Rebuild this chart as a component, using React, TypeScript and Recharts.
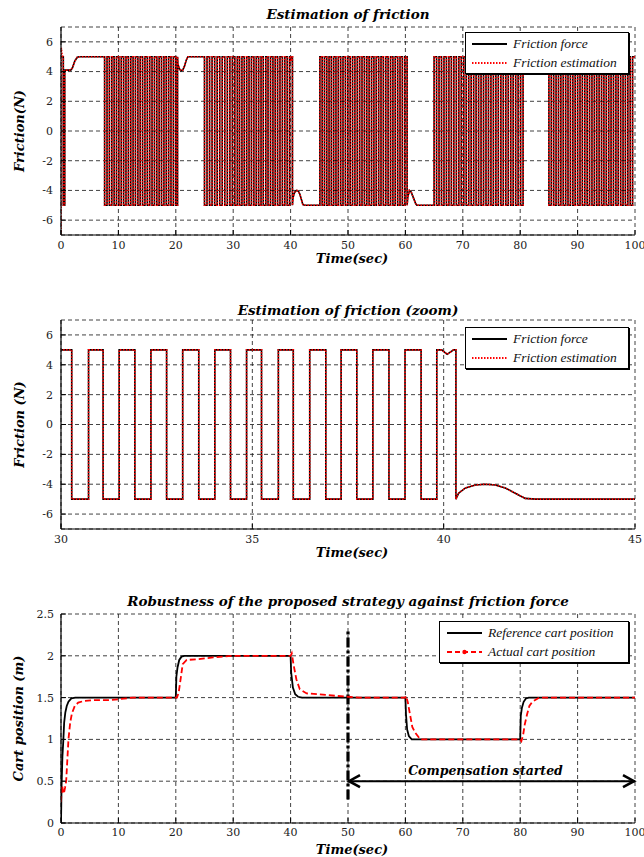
import React from "react";
import { LineChart, Line, XAxis, YAxis, CartesianGrid, ReferenceLine, Legend, Label } from "recharts";

// ---------- Estimation of friction (time in s, friction in N) ----------
// smooth parts of the friction force, [time, value]
const startPart: [number, number][] = [
  [0, 5], [0.4, 5], [0.4, -5], [0.65, -5], [0.65, 4.1], [1.7, 4.1], [2.0, 4.25], [2.4, 4.7], [2.8, 4.95], [3.1, 5],
];
const hump20: [number, number][] = [
  [20.35, 4.55], [20.6, 4.2], [20.9, 4.05], [21.2, 4.1], [21.5, 4.35], [21.8, 4.75], [22.1, 5],
];
const hump40: [number, number][] = [
  [39.95, 5], [40.09, 4.7], [40.26, 5], [40.32, 5], [40.32, -5],
  [40.39, -4.6], [40.57, -4.25], [40.83, -4.05], [41.09, -4.0], [41.35, -4.05], [41.61, -4.25], [41.87, -4.6], [42.13, -4.95], [42.4, -5],
];
const hump60: [number, number][] = [
  [60.4, -4.5], [60.7, -4.0], [61.0, -4.1], [61.4, -4.5], [61.8, -4.9], [62.0, -5],
];
const hump80: [number, number][] = [
  [80.6, 4.5], [80.9, 4.1], [81.3, 4.1], [81.7, 4.5], [82.1, 4.9], [82.4, 5],
];
// estimator start-up transient
const estStart: [number, number][] = [[0, -7], [0.06, 5.6], [0.2, 5.1]];

// switching instants of the stick-slip friction (sign changes)
const switches1 = [
  7.6, 8.02, 8.43, 8.85, 9.26, 9.67, 10.08, 10.5, 10.91, 11.32, 11.74, 12.15, 12.56, 12.97, 13.39, 13.8,
  14.21, 14.62, 15.04, 15.45, 15.86, 16.28, 16.69, 17.1, 17.51, 17.93, 18.34, 18.75, 19.16, 19.58, 19.99, 20.3,
];
const switches2 = [
  25.0, 25.44, 25.88, 26.32, 26.77, 27.21, 27.65, 28.09, 28.53, 28.98, 29.42, 29.86,
  30.28, 30.72, 31.1, 31.52, 31.93, 32.35, 32.76, 33.18, 33.6, 34.02, 34.43, 34.85,
  35.24, 35.68, 36.07, 36.5, 36.92, 37.32, 37.73, 38.15, 38.57, 38.99, 39.41, 39.82,
];
const switches3 = [
  45.1, 45.5, 45.9, 46.3, 46.7, 47.1, 47.5, 47.9, 48.31, 48.72, 49.13, 49.55, 49.96, 50.38, 50.79, 51.2,
  51.62, 52.03, 52.44, 52.86, 53.27, 53.68, 54.1, 54.51, 54.92, 55.34, 55.75, 56.16, 56.58, 56.99, 57.41, 57.82,
  58.23, 58.65, 59.06, 59.47, 59.89, 60.3,
];
const switches4 = [
  65.0, 65.43, 65.86, 66.29, 66.72, 67.15, 67.58, 68.01, 68.44, 68.88, 69.31, 69.74, 70.17, 70.6, 71.03, 71.46,
  71.89, 72.32, 72.75, 73.18, 73.61, 74.04, 74.47, 74.9, 75.33, 75.76, 76.19, 76.63, 77.06, 77.49, 77.92, 78.35,
  78.78, 79.21, 79.64, 80.07, 80.5,
];
const switches5 = [
  85.0, 85.42, 85.83, 86.25, 86.67, 87.08, 87.5, 87.92, 88.33, 88.75, 89.17, 89.58, 90.0, 90.42, 90.83, 91.25,
  91.67, 92.08, 92.5, 92.92, 93.33, 93.75, 94.17, 94.58, 95.0, 95.42, 95.83, 96.25, 96.67, 97.08, 97.5, 97.92,
  98.33, 98.75, 99.17, 99.58,
];

// ---------- Cart position (time in s, position in m) ----------
const refPosition: [number, number][] = [
  [0, 0], [0.1, 0.45], [0.25, 0.8], [0.4, 0.98], [0.55, 1.2], [0.75, 1.32], [1.0, 1.4], [1.3, 1.45], [1.8, 1.49], [2.5, 1.5],
  [20, 1.5], [20.1, 1.75], [20.3, 1.86], [20.6, 1.95], [21.0, 1.99], [21.5, 2.0],
  [40, 2.0], [40.1, 1.8], [40.4, 1.62], [40.8, 1.54], [41.3, 1.51], [42, 1.5],
  [60, 1.5], [60.1, 1.3], [60.3, 1.12], [60.6, 1.04], [61.1, 1.0],
  [80, 1.0], [80.1, 1.28], [80.3, 1.38], [80.6, 1.45], [81.0, 1.49], [81.5, 1.5], [100, 1.5],
];
const actualPosition: [number, number][] = [
  [0, 0.25], [0.1, 0.42], [0.2, 0.45], [0.35, 0.38], [0.5, 0.35], [0.7, 0.42], [0.9, 0.5], [1.1, 0.75], [1.3, 1.0],
  [1.6, 1.2], [1.9, 1.31], [2.4, 1.4], [3.0, 1.44], [4.0, 1.46], [6, 1.47], [8.5, 1.47], [10, 1.48], [12.5, 1.5],
  [20.2, 1.5], [20.5, 1.56], [20.9, 1.75], [21.2, 1.9], [21.9, 1.95], [24, 1.96], [26.5, 1.98], [30, 2.0],
  [40, 2.0], [40.2, 2.03], [40.5, 1.9], [41.0, 1.72], [41.6, 1.6], [42.8, 1.55], [45, 1.54], [48, 1.52], [50, 1.51], [52, 1.5],
  [60, 1.5], [60.1, 1.52], [60.4, 1.45], [60.8, 1.3], [61.2, 1.15], [61.7, 1.08], [62.6, 1.0],
  [80, 1.0], [80.2, 0.98], [80.5, 1.05], [80.8, 1.18], [81.2, 1.3], [81.6, 1.4], [82.1, 1.45], [83.3, 1.5], [100, 1.5],
];

const timeTicks = [0, 10, 20, 30, 40, 50, 60, 70, 80, 90, 100];
const zoomTicks = [30, 35, 40, 45];
const forceTicks = [-6, -4, -2, 0, 2, 4, 6];
const posTicks = [0, 0.5, 1, 1.5, 2, 2.5];

type Pt = { t: number; v: number };

const toPoints = (pairs: [number, number][]): Pt[] => pairs.map(([t, v]) => ({ t, v }));

// vertical jumps at each switching instant
function switching(level: number, times: number[]): Pt[] {
  const out: Pt[] = [];
  let v = level;
  times.forEach((t) => {
    out.push({ t, v });
    v = -v;
    out.push({ t, v });
  });
  return out;
}

const frictionForce: Pt[] = [
  ...toPoints(startPart),
  ...switching(5, switches1),
  ...toPoints(hump20),
  ...switching(5, switches2),
  ...toPoints(hump40),
  ...switching(-5, switches3),
  ...toPoints(hump60),
  ...switching(-5, switches4),
  ...toPoints(hump80),
  ...switching(5, switches5),
  { t: 100, v: 5 },
];
const frictionEstimate: Pt[] = [...toPoints(estStart), ...frictionForce.slice(1)];
const refData = toPoints(refPosition);
const actualData = toPoints(actualPosition);

const SERIF = "'DejaVu Serif', serif";
const tickStyle = { fontFamily: SERIF, fontSize: 11, fill: "#222" };
const boldItalic: React.CSSProperties = { fontFamily: SERIF, fontSize: 13, fontWeight: "bold", fontStyle: "italic", fill: "#000" };

const yTitle = (text: string, cx: number) => (props: any) => {
  const vb = props.viewBox;
  const cy = vb.y + vb.height / 2;
  return (
    <text x={cx} y={cy} transform={`rotate(-90 ${cx} ${cy})`} textAnchor="middle" dominantBaseline="central" style={boldItalic}>
      {text}
    </text>
  );
};

const xTitle = (text: string, dy: number) => (props: any) => {
  const vb = props.viewBox;
  return (
    <text x={vb.x + vb.width / 2 + 4} y={vb.y + dy} textAnchor="middle" dominantBaseline="central" style={boldItalic}>
      {text}
    </text>
  );
};

type LegendItem = { label: string; color: string; dash?: string; dot?: boolean };

function LegendBox({ items, lineX }: { items: LegendItem[]; lineX: number }) {
  return (
    <div style={{ border: "1px solid #000", background: "#fff", padding: `1px ${lineX}px`, boxShadow: "1px 1px 0 #000" }}>
      {items.map((it) => (
        <div key={it.label} style={{ display: "flex", alignItems: "center", height: 19 }}>
          <svg width={35} height={10}>
            <line x1={0} y1={5} x2={35} y2={5} stroke={it.color} strokeWidth={2} strokeDasharray={it.dash} />
            {it.dot && <circle cx={17.5} cy={5} r={2.2} fill={it.color} />}
          </svg>
          <span style={{ marginLeft: 6, fontFamily: "'Liberation Serif', serif", fontStyle: "italic", fontSize: 13.5, color: "#111", whiteSpace: "nowrap" }}>
            {it.label}
          </span>
        </div>
      ))}
    </div>
  );
}

const frictionLegend: LegendItem[] = [
  { label: "Friction force", color: "#000" },
  { label: "Friction estimation", color: "#ff0000", dash: "1.5 1.5" },
];
const positionLegend: LegendItem[] = [
  { label: "Reference cart position", color: "#000" },
  { label: "Actual cart position", color: "#ff0000", dash: "5 3", dot: true },
];

const ArrowShape = (p: any) => {
  const { x1, y1, x2 } = p;
  return (
    <g>
      <line x1={x1} y1={y1} x2={x2} y2={y1} stroke="#000" strokeWidth={2} />
      <polyline points={`${x1 + 12},${y1 - 6} ${x1 + 1},${y1} ${x1 + 12},${y1 + 6}`} fill="none" stroke="#000" strokeWidth={2.6} />
      <polyline points={`${x2 - 12},${y1 - 6} ${x2 - 1},${y1} ${x2 - 12},${y1 + 6}`} fill="none" stroke="#000" strokeWidth={2.6} />
      <text x={(x1 + x2) / 2 - 6} y={y1 - 11} textAnchor="middle" dominantBaseline="central" style={{ ...boldItalic, fontSize: 12.5 }}>
        Compensation started
      </text>
    </g>
  );
};

const gridProps = { stroke: "#111", strokeDasharray: "4 3", strokeWidth: 0.8 };
const axisLine = { stroke: "#000", strokeWidth: 1.2 };

function Title({ text, top }: { text: string; top: number }) {
  return (
    <div style={{ position: "absolute", left: 61, width: 574, top, textAlign: "center", fontFamily: SERIF, fontSize: 13.5, fontWeight: "bold", fontStyle: "italic", lineHeight: "16px", whiteSpace: "nowrap" }}>
      {text}
    </div>
  );
}

function FrictionChart({ domain, ticks, height, top, xHeight, label, legendTop }: {
  domain: [number, number]; ticks: number[]; height: number; top: number; xHeight: number; label: string; legendTop: number;
}) {
  return (
    <LineChart width={644} height={height} margin={{ top, right: 9, bottom: 0, left: 0 }}>
      <CartesianGrid {...gridProps} />
      <XAxis dataKey="t" type="number" domain={domain} ticks={ticks} allowDataOverflow interval={0} height={xHeight}
        tickSize={-5} tickMargin={11} tick={tickStyle} axisLine={axisLine} tickLine={{ stroke: "#000" }}>
        <Label content={xTitle("Time(sec)", 23)} />
      </XAxis>
      <XAxis xAxisId="top" orientation="top" type="number" domain={domain} ticks={ticks} allowDataOverflow interval={0} height={0}
        tickSize={-5} tickFormatter={() => ""} axisLine={axisLine} tickLine={{ stroke: "#000" }} />
      <YAxis type="number" domain={[-7, 7]} ticks={forceTicks} allowDataOverflow interval={0} width={61}
        tickSize={-5} tickMargin={13} tick={tickStyle} axisLine={axisLine} tickLine={{ stroke: "#000" }}>
        <Label content={yTitle(label, 19)} />
      </YAxis>
      <YAxis yAxisId="right" orientation="right" type="number" domain={[-7, 7]} ticks={forceTicks} allowDataOverflow interval={0} width={0}
        tickSize={-5} tickFormatter={() => ""} axisLine={axisLine} tickLine={{ stroke: "#000" }} />
      <Line data={frictionForce} dataKey="v" type="linear" stroke="#000" strokeWidth={1.6} dot={false} isAnimationActive={false} />
      <Line data={frictionEstimate} dataKey="v" type="linear" stroke="#ff0000" strokeWidth={1.6} strokeDasharray="1.5 1.5" dot={false} isAnimationActive={false} />
      <Legend layout="vertical" align="center" verticalAlign="middle" wrapperStyle={{ left: 465, top: legendTop, width: 164 }}
        content={() => <LegendBox items={frictionLegend} lineX={6} />} />
    </LineChart>
  );
}

export default function App() {
  return (
    <div style={{ position: "absolute", left: 0, top: 0, width: 644, height: 857, background: "#fff", overflow: "hidden" }}>
      <div style={{ position: "absolute", left: 0, top: 0 }}>
        <FrictionChart domain={[0, 100]} ticks={timeTicks} height={270} top={27} xHeight={35} label="Friction(N)" legendTop={32} />
      </div>
      <Title text="Estimation of friction" top={6} />

      <div style={{ position: "absolute", left: 0, top: 295 }}>
        <FrictionChart domain={[30, 45]} ticks={zoomTicks} height={270} top={25} xHeight={36} label="Friction (N)" legendTop={32} />
      </div>
      <Title text="Estimation of friction (zoom)" top={302} />

      <div style={{ position: "absolute", left: 0, top: 590 }}>
        <LineChart width={644} height={267} margin={{ top: 24, right: 9, bottom: 0, left: 0 }}>
          <CartesianGrid {...gridProps} />
          <XAxis dataKey="t" type="number" domain={[0, 100]} ticks={timeTicks} allowDataOverflow interval={0} height={34}
            tickSize={-5} tickMargin={10} tick={tickStyle} axisLine={axisLine} tickLine={{ stroke: "#000" }}>
            <Label content={xTitle("Time(sec)", 26)} />
          </XAxis>
          <XAxis xAxisId="top" orientation="top" type="number" domain={[0, 100]} ticks={timeTicks} allowDataOverflow interval={0} height={0}
            tickSize={-5} tickFormatter={() => ""} axisLine={axisLine} tickLine={{ stroke: "#000" }} />
          <YAxis type="number" domain={[0, 2.5]} ticks={posTicks} allowDataOverflow interval={0} width={61}
            tickSize={-5} tickMargin={12} tick={tickStyle} axisLine={axisLine} tickLine={{ stroke: "#000" }}>
            <Label content={yTitle("Cart position (m)", 18)} />
          </YAxis>
          <YAxis yAxisId="right" orientation="right" type="number" domain={[0, 2.5]} ticks={posTicks} allowDataOverflow interval={0} width={0}
            tickSize={-5} tickFormatter={() => ""} axisLine={axisLine} tickLine={{ stroke: "#000" }} />
          <ReferenceLine segment={[{ x: 50, y: 0.28 }, { x: 50, y: 2.3 }]} stroke="#000" strokeWidth={3.2} strokeDasharray="10 3 3 3" />
          <ReferenceLine segment={[{ x: 50, y: 0.5 }, { x: 100, y: 0.5 }]} shape={ArrowShape} />
          <Line data={refData} dataKey="v" type="linear" stroke="#000" strokeWidth={1.8} dot={false} isAnimationActive={false} />
          <Line data={actualData} dataKey="v" type="linear" stroke="#ff0000" strokeWidth={1.8} strokeDasharray="6 3" dot={false} isAnimationActive={false} />
          <Legend layout="vertical" align="center" verticalAlign="middle" wrapperStyle={{ left: 439, top: 31, width: 190 }}
            content={() => <LegendBox items={positionLegend} lineX={7} />} />
        </LineChart>
      </div>
      <Title text="Robustness of the proposed strategy against friction force" top={593} />
    </div>
  );
}
